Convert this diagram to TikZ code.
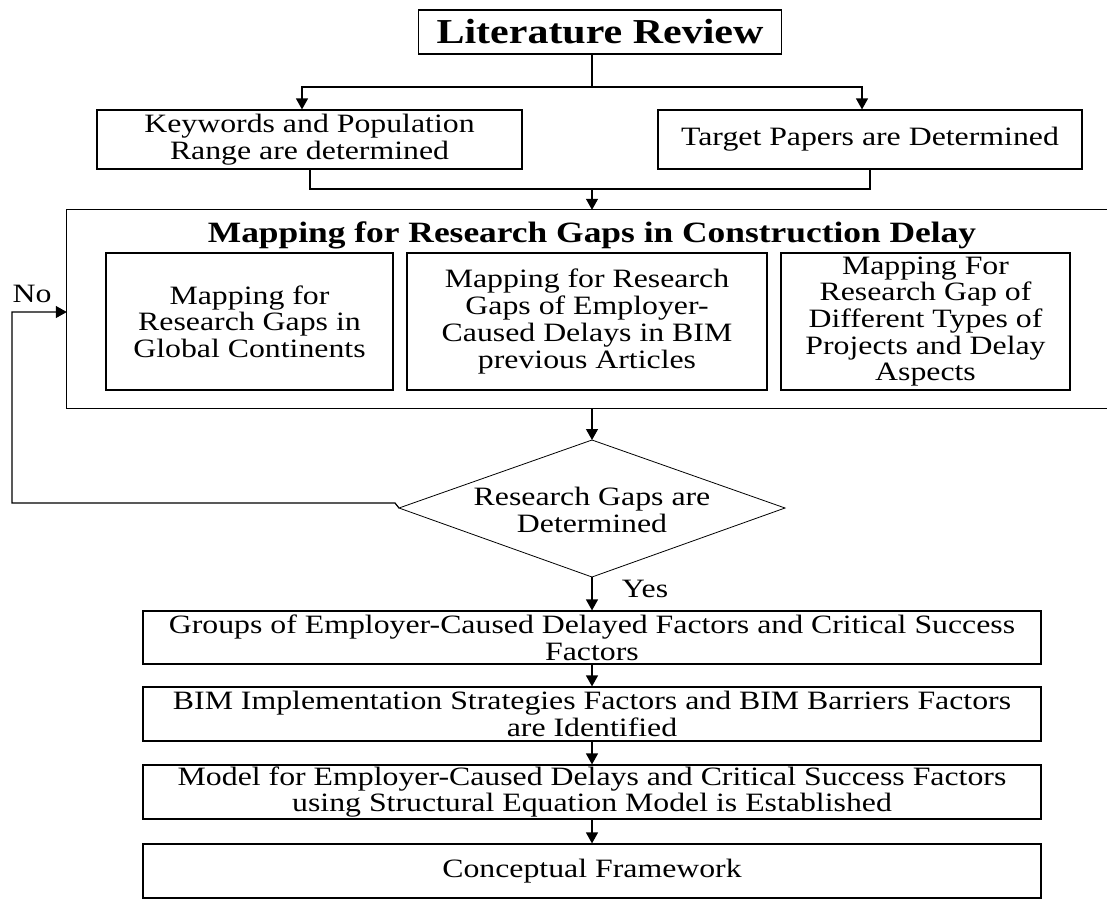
\documentclass[tikz,border=0pt]{standalone}
\usepackage{fontspec}
\usetikzlibrary{arrows.meta}
\newfontfamily\bodyfont[FakeStretch=1.2]{Liberation Serif}
\newcommand\bodytext{\bodyfont\fontsize{26.5}{26.7}\selectfont}
\newcommand\maptitle{\bodyfont\bfseries\fontsize{29.5}{31}\selectfont}
\newcommand\littitle{\bodyfont\bfseries\fontsize{35}{37}\selectfont}
\begin{document}
\begin{tikzpicture}[x=1pt,y=-1pt,
  box/.style={draw, line width=1.2pt, inner sep=0pt, align=center, font=\bodytext},
  link/.style={line width=1.2pt},
  arr/.style={link, -{Triangle[length=11pt,width=12pt]}},
  lbl/.style={inner sep=0pt, font=\bodytext}]
\useasboundingbox (0,0) rectangle (1107,898);

% top of the flow
\node[box, font=\littitle, minimum width=363pt, minimum height=44pt] (lit) at (600,32) {Literature Review};
\node[box, minimum width=425pt, minimum height=59pt] (kw) at (309.5,139.5) {Keywords and Population\\Range are determined};
\node[box, minimum width=424pt, minimum height=59pt] (tp) at (870,139.5) {Target Papers are Determined};

% mapping block (open on the right)
\node[inner sep=0pt, minimum width=1040pt, minimum height=198pt] (map) at (587,309) {};
\draw[link] (map.north east) -- (map.north west) -- (map.south west) -- (map.south east);
\node[inner sep=0pt, font=\maptitle] (maptitle) at (592,235) {Mapping for Research Gaps in Construction Delay};
\node[box, minimum width=287pt, minimum height=137pt] (m1) at (249.5,321.5) {Mapping for\\Research Gaps in\\Global Continents};
\node[box, minimum width=360pt, minimum height=137pt] (m2) at (587,321.5) {Mapping for Research\\Gaps of Employer-\\Caused Delays in BIM\\previous Articles};
\node[box, minimum width=289pt, minimum height=137pt] (m3) at (925.5,321.5) {Mapping For\\Research Gap of\\Different Types of\\Projects and Delay\\Aspects};

% decision
\coordinate (dtop) at (592,440);
\coordinate (dright) at (785,508);
\coordinate (dbot) at (592,577);
\coordinate (dleft) at (399,508);
\draw[line width=0.8pt] (dtop) -- (dright) -- (dbot) -- (dleft) -- cycle;
\node[lbl, align=center] (dec) at (592,510) {Research Gaps are\\Determined};

% lower steps
\node[box, minimum width=898pt, minimum height=53pt] (g1) at (592,637.5) {Groups of Employer-Caused Delayed Factors and Critical Success\\Factors};
\node[box, minimum width=898pt, minimum height=54pt] (g2) at (592,714) {BIM Implementation Strategies Factors and BIM Barriers Factors\\are Identified};
\node[box, minimum width=898pt, minimum height=54pt] (g3) at (592,792) {Model for Employer-Caused Delays and Critical Success Factors\\using Structural Equation Model is Established};
\node[box, minimum width=898pt, minimum height=54pt] (g4) at (592,871) {Conceptual Framework};

% labels
\node[lbl] (no) at (32,294) {No};
\node[lbl] (yes) at (645,589) {Yes};

% connectors
\coordinate (split) at (592,87);
\coordinate (join) at (592,189);
\draw[link] (lit.south -| split) -- (split);
\draw[arr] (split) -| (kw.north -| 302,0);
\draw[arr] (split) -| (tp.north -| 862,0);
\draw[link] (kw.south -| 310,0) |- (join);
\draw[link] (tp.south -| 870,0) |- (join);
\draw[arr] (join) -- (map.north -| join);
\draw[arr] (map.south -| dtop) -- (dtop);
\draw[arr] (dbot) -- (g1.north -| dbot);
\draw[arr] (g1.south -| dbot) -- (g2.north -| dbot);
\draw[arr] (g2.south -| dbot) -- (g3.north -| dbot);
\draw[arr] (g3.south -| dbot) -- (g4.north -| dbot);
\coordinate (back) at (12,312);
\draw[arr] (dleft) -- (395,503) -- (back |- 395,503) -- (back) -- (map.west |- back);
\end{tikzpicture}
\end{document}
